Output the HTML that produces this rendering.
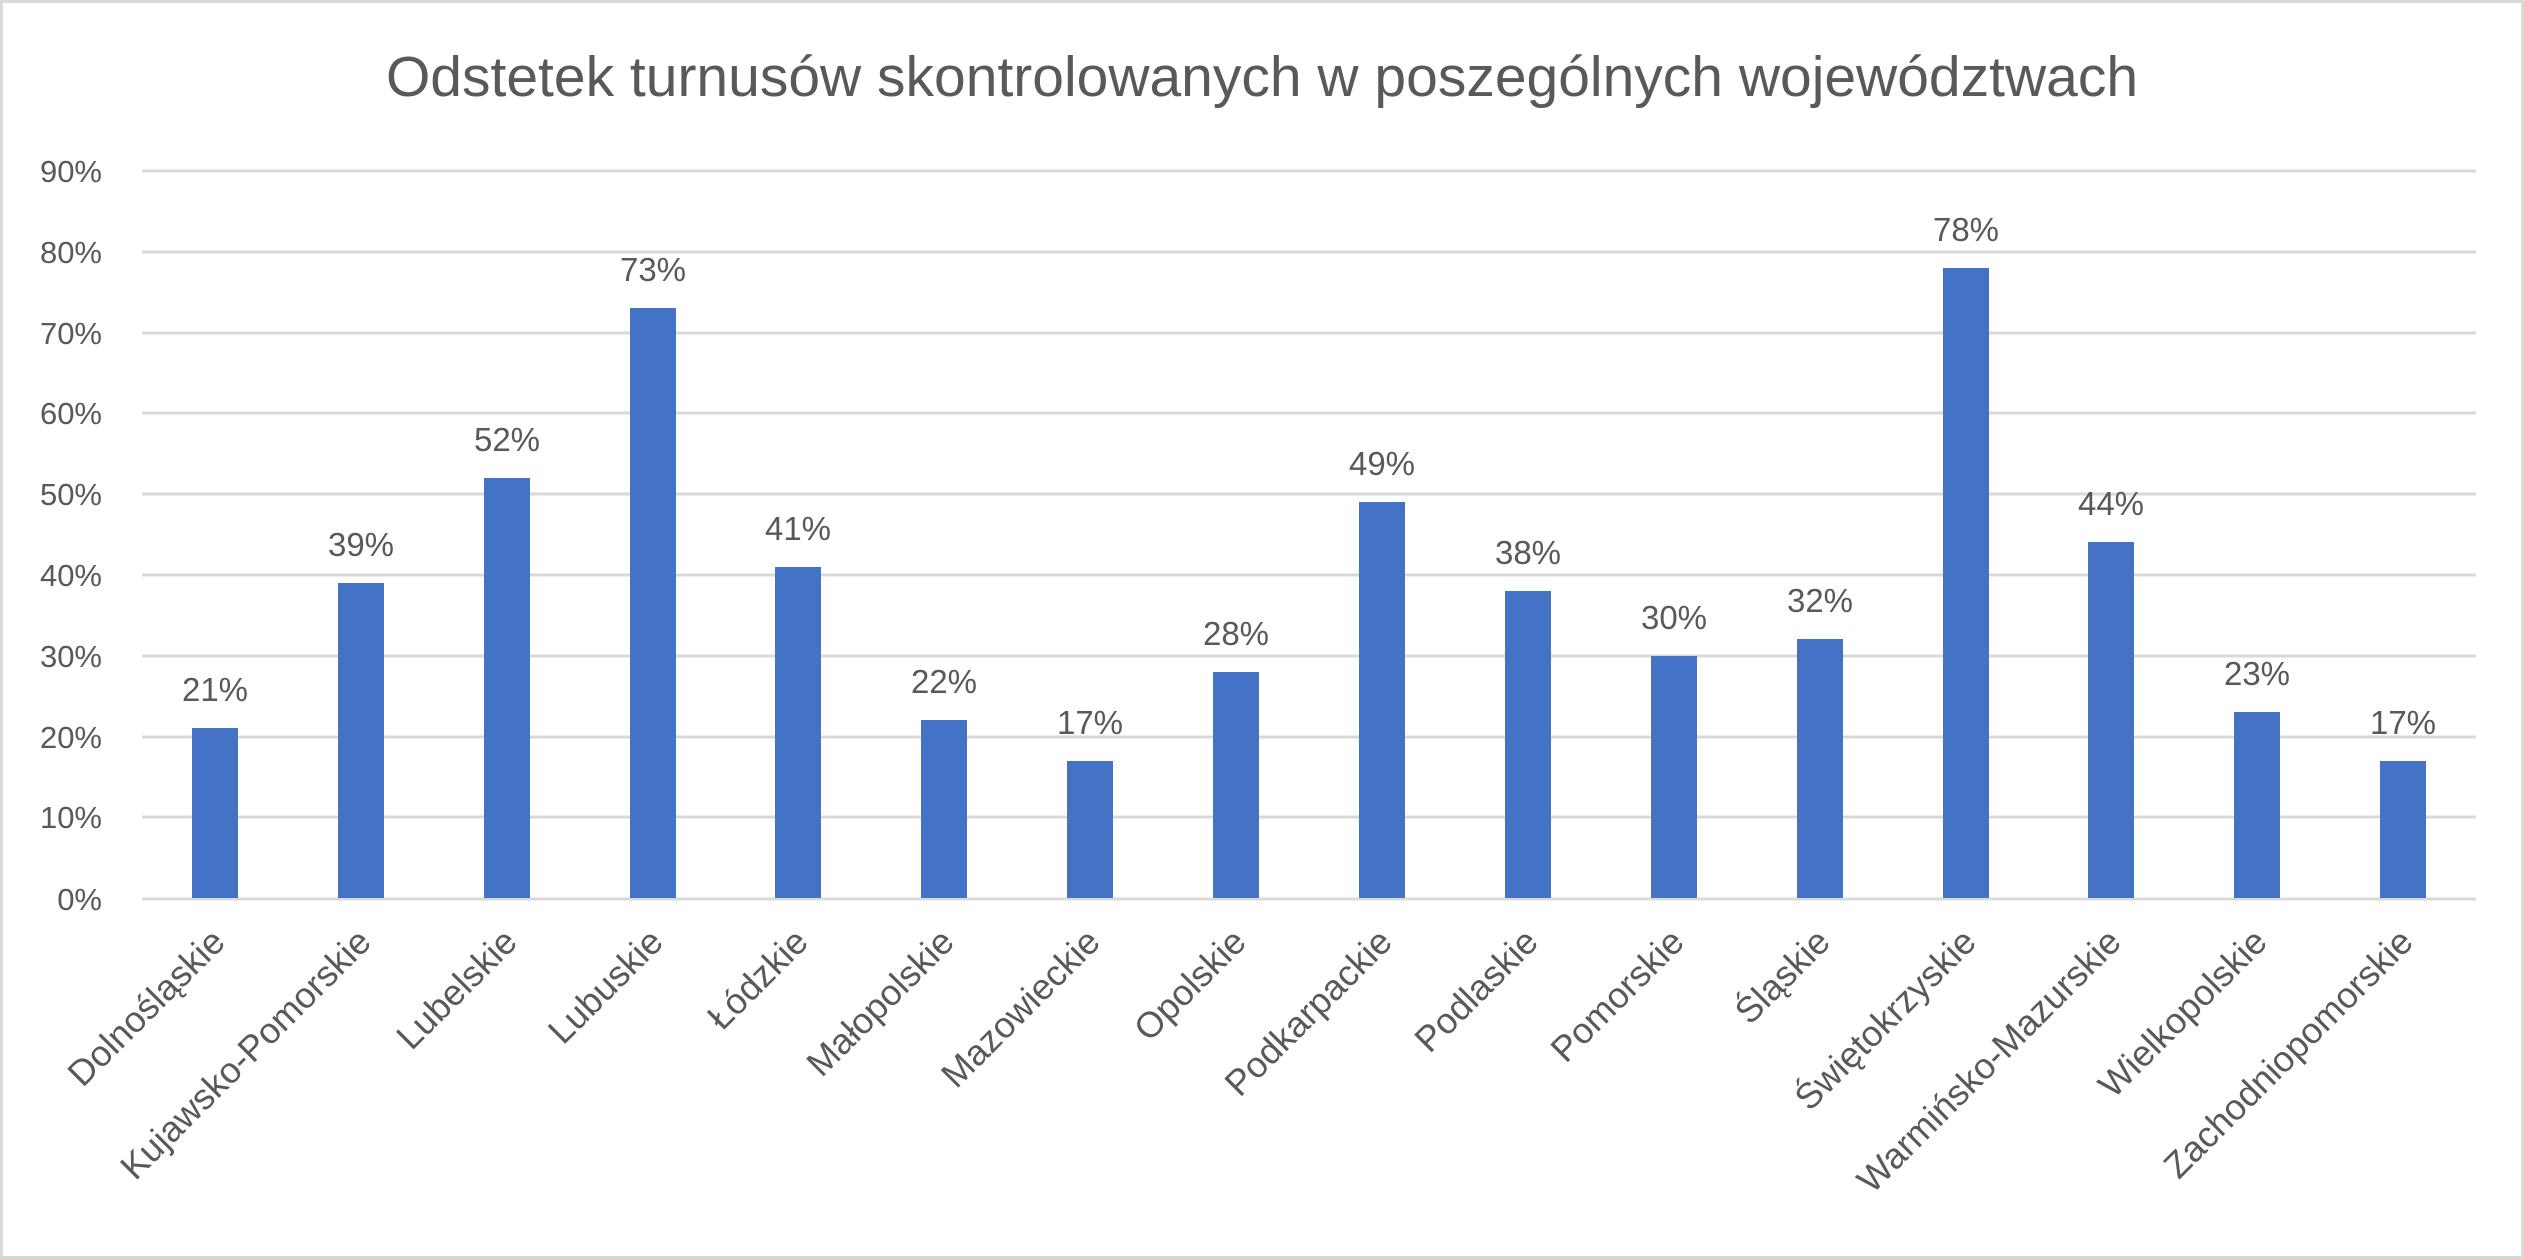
<!DOCTYPE html>
<html><head><meta charset="utf-8"><style>
html,body{margin:0;padding:0;background:#fff}
svg{display:block}
text{font-family:"Liberation Sans",sans-serif;fill:#595959}
</style></head><body>
<svg width="2524" height="1259" viewBox="0 0 2524 1259" xmlns="http://www.w3.org/2000/svg">
<rect x="1.5" y="1.5" width="2521" height="1256" fill="#fff" stroke="#d9d9d9" stroke-width="3"/>
<text x="1262" y="96" font-size="57" text-anchor="middle">Odstetek turnusów skontrolowanych w poszególnych województwach</text>
<g stroke="#d9d9d9" stroke-width="3">
<line x1="142" x2="2476" y1="171" y2="171"/>
<line x1="142" x2="2476" y1="252" y2="252"/>
<line x1="142" x2="2476" y1="333" y2="333"/>
<line x1="142" x2="2476" y1="413" y2="413"/>
<line x1="142" x2="2476" y1="494" y2="494"/>
<line x1="142" x2="2476" y1="575" y2="575"/>
<line x1="142" x2="2476" y1="656" y2="656"/>
<line x1="142" x2="2476" y1="737" y2="737"/>
<line x1="142" x2="2476" y1="817" y2="817"/>
<line x1="142" x2="2476" y1="899" y2="899"/>
</g>
<g font-size="31" text-anchor="end">
<text x="102" y="182">90%</text><text x="102" y="263">80%</text><text x="102" y="344">70%</text>
<text x="102" y="424">60%</text><text x="102" y="505">50%</text><text x="102" y="586">40%</text>
<text x="102" y="667">30%</text><text x="102" y="748">20%</text><text x="102" y="828">10%</text>
<text x="102" y="910">0%</text>
</g>
<g fill="#4472C4">
<rect x="192" y="728" width="46" height="170"/>
<rect x="338" y="583" width="46" height="315"/>
<rect x="484" y="478" width="46" height="420"/>
<rect x="630" y="308" width="46" height="590"/>
<rect x="775" y="567" width="46" height="331"/>
<rect x="921" y="720" width="46" height="178"/>
<rect x="1067" y="761" width="46" height="137"/>
<rect x="1213" y="672" width="46" height="226"/>
<rect x="1359" y="502" width="46" height="396"/>
<rect x="1505" y="591" width="46" height="307"/>
<rect x="1651" y="656" width="46" height="242"/>
<rect x="1797" y="639" width="46" height="259"/>
<rect x="1943" y="268" width="46" height="630"/>
<rect x="2088" y="542" width="46" height="356"/>
<rect x="2234" y="712" width="46" height="186"/>
<rect x="2380" y="761" width="46" height="137"/>
</g>
<g font-size="33" text-anchor="middle">
<text x="215" y="701">21%</text>
<text x="361" y="556">39%</text>
<text x="507" y="451">52%</text>
<text x="653" y="281">73%</text>
<text x="798" y="540">41%</text>
<text x="944" y="693">22%</text>
<text x="1090" y="734">17%</text>
<text x="1236" y="645">28%</text>
<text x="1382" y="475">49%</text>
<text x="1528" y="564">38%</text>
<text x="1674" y="629">30%</text>
<text x="1820" y="612">32%</text>
<text x="1966" y="241">78%</text>
<text x="2111" y="515">44%</text>
<text x="2257" y="685">23%</text>
<text x="2403" y="734">17%</text>
</g>
<g font-size="36" text-anchor="end">
<text transform="translate(227 944) rotate(-45)">Dolnośląskie</text>
<text transform="translate(373 944) rotate(-45)">Kujawsko-Pomorskie</text>
<text transform="translate(519 944) rotate(-45)">Lubelskie</text>
<text transform="translate(665 944) rotate(-45)">Lubuskie</text>
<text transform="translate(810 944) rotate(-45)">Łódzkie</text>
<text transform="translate(956 944) rotate(-45)">Małopolskie</text>
<text transform="translate(1102 944) rotate(-45)">Mazowieckie</text>
<text transform="translate(1248 944) rotate(-45)">Opolskie</text>
<text transform="translate(1394 944) rotate(-45)">Podkarpackie</text>
<text transform="translate(1540 944) rotate(-45)">Podlaskie</text>
<text transform="translate(1686 944) rotate(-45)">Pomorskie</text>
<text transform="translate(1832 944) rotate(-45)">Śląskie</text>
<text transform="translate(1978 944) rotate(-45)">Świętokrzyskie</text>
<text transform="translate(2123 944) rotate(-45)">Warmińsko-Mazurskie</text>
<text transform="translate(2269 944) rotate(-45)">Wielkopolskie</text>
<text transform="translate(2415 944) rotate(-45)">Zachodniopomorskie</text>
</g>
</svg>
</body></html>
